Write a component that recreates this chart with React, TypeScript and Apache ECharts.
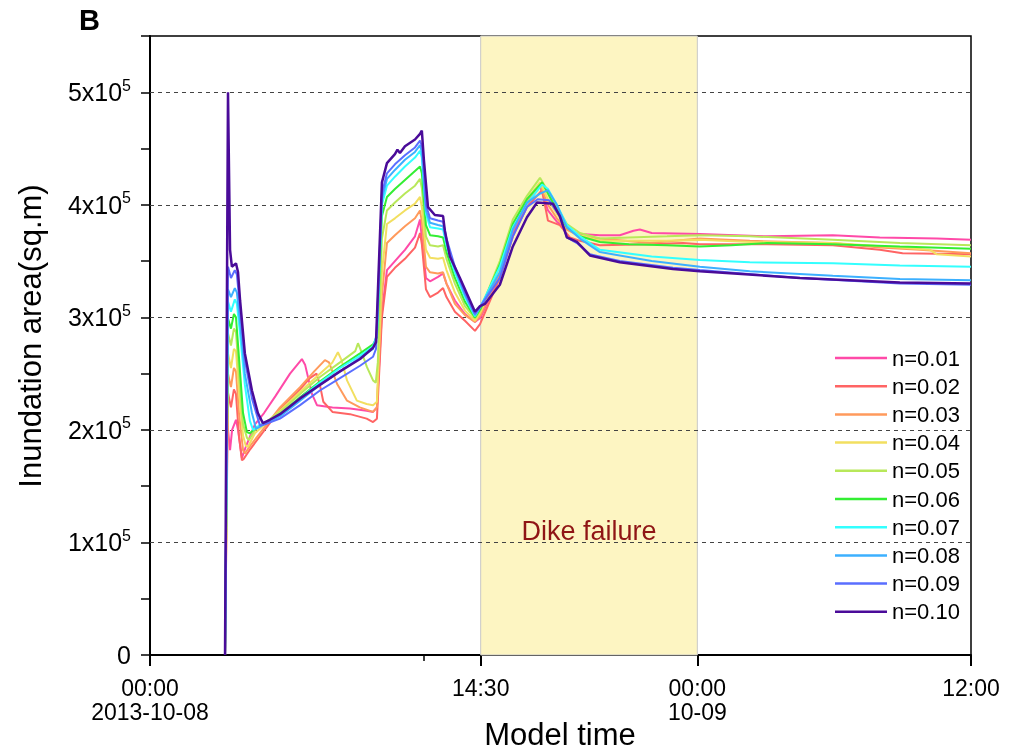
import React, { useEffect, useRef } from "react";
import * as echarts from "echarts";

// time in hours since 2013-10-08 00:00, area in thousand sq.m
const seriesNames = ["n=0.01", "n=0.02", "n=0.03", "n=0.04", "n=0.05", "n=0.06", "n=0.07", "n=0.08", "n=0.09", "n=0.10"];
const seriesColors = ["#ff4aa8", "#ff6464", "#ff9a5c", "#f2df60", "#b8e85a", "#33ee33", "#33ffff", "#3cb0ff", "#5a6eff", "#4a0b99"];

const n01 = [[3.29,0],[3.38,209],[3.51,182],[3.6,200],[3.77,209],[3.86,200],[4.03,175],[4.2,185],[4.6,205],[5.0,215],[5.5,230],[6.14,250],[6.66,263],[6.8,258],[7.1,232],[7.32,222],[8.0,220],[8.77,219],[9.5,217],[9.78,216],[9.95,220],[10.17,305],[10.39,342],[10.74,350],[11.18,360],[11.62,372],[11.84,387],[11.92,370],[12.1,335],[12.28,332],[12.63,336],[12.85,339],[13.0,330],[13.37,315],[13.81,303],[14.25,296],[14.5,300],[15.34,338],[15.91,375],[16.53,400],[17.1,417],[17.45,395],[17.84,385],[18.28,378],[18.85,374],[19.73,373],[20.6,373],[21.2,377],[21.48,378],[22.0,375],[24.11,374],[27.05,372],[29.94,373],[32.0,371],[34.5,370],[36,369]];
const n02 = [[3.29,0],[3.42,233],[3.55,220],[3.68,236],[3.77,232],[3.9,195],[4.03,173],[4.1,174],[4.4,183],[5.7,218],[6.58,236],[7.01,246],[7.3,250],[7.45,240],[7.6,225],[8.0,216],[8.77,214],[9.5,210],[9.78,207],[9.95,210],[10.17,300],[10.39,336],[10.74,344],[11.18,352],[11.62,362],[11.84,375],[11.92,365],[12.1,325],[12.28,318],[12.63,322],[12.85,326],[13.0,318],[13.37,305],[13.81,297],[14.25,288],[14.47,294],[15.34,335],[15.91,372],[16.53,398],[17.19,413],[17.45,386],[17.97,382],[18.41,371],[18.85,368],[19.73,364],[21.92,365],[23.37,366],[24.11,365],[27.05,365],[29.94,364],[32.0,360],[33.0,357],[36,356]];
const n03 = [[3.29,0],[3.42,250],[3.55,238],[3.68,255],[3.77,252],[3.9,215],[4.08,182],[4.16,179],[4.4,186],[5.7,220],[6.58,238],[7.2,252],[7.67,262],[7.85,260],[8.2,241],[8.64,226],[9.2,220],[9.78,216],[9.95,220],[10.17,320],[10.39,366],[10.74,373],[11.18,381],[11.62,388],[11.84,395],[11.92,385],[12.1,345],[12.28,340],[12.63,339],[12.85,340],[13.0,330],[13.37,312],[13.81,302],[14.25,296],[14.5,302],[15.34,340],[15.91,378],[16.53,402],[17.1,418],[17.45,400],[17.84,388],[18.28,378],[18.85,372],[19.73,370],[21.92,366],[24.11,370],[26.3,368],[29.94,366],[32.0,362],[33.76,360],[36,357]];
const n04 = [[3.29,0],[3.42,268],[3.55,255],[3.68,272],[3.77,270],[3.9,235],[4.08,195],[4.2,186],[4.3,185],[4.6,197],[5.7,217],[6.58,234],[7.45,250],[8.0,260],[8.24,269],[8.4,262],[8.64,244],[9.07,226],[9.5,223],[9.78,222],[9.95,225],[10.17,340],[10.39,383],[10.74,388],[11.18,395],[11.62,401],[11.84,407],[11.92,398],[12.1,360],[12.28,353],[12.63,352],[12.85,353],[13.0,342],[13.37,322],[13.81,306],[14.25,297],[14.5,305],[15.34,345],[15.91,383],[16.53,405],[17.1,420],[17.45,405],[17.84,392],[18.28,380],[18.85,373],[19.73,368],[21.0,368],[22.67,368],[24.11,369],[26.3,367],[29.94,366],[32.88,362],[34.2,360],[34.5,356],[36,354]];
const n05 = [[3.29,0],[3.42,286],[3.55,275],[3.68,290],[3.77,287],[3.9,250],[4.08,205],[4.25,193],[4.34,191],[4.6,200],[5.7,216],[6.58,232],[7.45,247],[8.33,260],[9.0,270],[9.12,277],[9.3,268],[9.51,256],[9.78,244],[9.9,242],[9.99,260],[10.17,370],[10.39,395],[10.74,402],[11.18,410],[11.62,417],[11.84,423],[11.92,415],[12.1,372],[12.28,364],[12.63,363],[12.85,364],[13.0,352],[13.37,330],[13.81,310],[14.25,299],[14.5,307],[15.34,350],[15.91,387],[16.53,408],[17.1,424],[17.45,412],[17.84,398],[18.28,383],[18.85,375],[19.73,370],[21.0,371],[22.67,372],[24.11,373],[26.3,372],[29.94,369],[32.88,366],[36,364]];
const n06 = [[3.29,0],[3.42,299],[3.55,290],[3.68,303],[3.77,300],[3.9,265],[4.08,215],[4.25,198],[4.38,197],[4.6,201],[5.7,214],[6.58,229],[7.45,243],[8.33,256],[9.21,268],[9.78,276],[9.95,282],[10.17,390],[10.39,407],[10.74,414],[11.18,422],[11.62,430],[11.84,434],[11.92,428],[12.1,382],[12.28,373],[12.63,372],[12.85,371],[13.0,358],[13.37,335],[13.81,314],[14.25,300],[14.5,308],[15.34,347],[15.91,383],[16.53,405],[17.19,420],[17.45,410],[17.84,395],[18.28,380],[18.85,372],[19.73,367],[21.0,365],[22.67,364],[24.11,363],[25.5,364],[27.05,366],[29.94,365],[32.88,363],[36,361]];
const n07 = [[3.29,0],[3.42,314],[3.55,305],[3.72,316],[3.81,312],[3.95,285],[4.16,240],[4.38,208],[4.52,200],[4.8,204],[5.7,213],[6.58,228],[7.45,242],[8.33,255],[9.21,266],[9.78,274],[9.95,285],[10.17,400],[10.39,417],[10.74,425],[11.18,434],[11.62,442],[11.84,448],[11.92,442],[12.1,392],[12.28,380],[12.63,379],[12.85,378],[13.0,364],[13.37,340],[13.81,318],[14.25,301],[14.5,310],[15.34,345],[15.91,380],[16.53,401],[17.19,418],[17.45,414],[17.84,400],[18.28,382],[18.85,372],[19.73,360],[22.0,354],[24.11,351],[26.3,349],[29.94,348],[32.88,346],[36,345]];
const n08 = [[3.29,0],[3.42,325],[3.55,318],[3.72,326],[3.81,322],[3.95,295],[4.16,250],[4.47,215],[4.65,201],[5.0,205],[5.7,212],[6.58,226],[7.45,240],[8.33,252],[9.21,264],[9.78,272],[9.95,285],[10.17,405],[10.39,423],[10.74,431],[11.18,440],[11.62,447],[11.84,453],[11.92,447],[12.1,395],[12.28,384],[12.63,382],[12.85,381],[13.0,367],[13.37,343],[13.81,320],[14.25,302],[14.5,310],[15.34,340],[15.91,378],[16.53,402],[17.1,410],[17.45,413],[17.84,400],[18.28,380],[18.85,370],[19.73,358],[22.0,350],[24.11,345],[26.3,341],[29.94,337],[32.88,334],[36,333]];
const n09 = [[3.29,0],[3.42,345],[3.55,335],[3.72,342],[3.81,338],[3.95,308],[4.16,262],[4.47,228],[4.82,204],[5.04,205],[5.7,210],[6.58,222],[7.45,235],[8.33,246],[9.21,257],[9.78,265],[9.91,272],[10.17,410],[10.39,428],[10.74,436],[11.18,444],[11.62,451],[11.84,457],[11.95,450],[12.1,400],[12.28,388],[12.63,386],[12.85,385],[13.0,370],[13.37,345],[13.81,322],[14.25,303],[14.5,310],[15.34,335],[15.91,372],[16.53,398],[17.0,405],[17.5,404],[17.97,390],[18.28,371],[18.72,366],[19.29,356],[20.6,350],[22.93,344],[24.11,342],[28.5,335],[32.88,330],[36,329]];
const n10 = [[3.29,0],[3.42,500],[3.51,360],[3.59,345],[3.77,348],[3.86,340],[3.95,315],[4.16,268],[4.47,235],[4.73,215],[4.95,206],[5.26,209],[5.7,214],[6.58,228],[7.45,240],[8.33,252],[9.21,263],[9.78,273],[9.91,278],[10.17,420],[10.39,437],[10.74,445],[10.85,449],[10.96,446],[11.18,452],[11.62,458],[11.84,463],[11.92,466],[12.01,440],[12.19,398],[12.49,391],[12.85,390],[12.93,377],[13.15,354],[13.59,335],[13.81,325],[14.25,305],[14.47,310],[14.69,312],[15.34,329],[15.91,363],[16.53,389],[16.97,402],[17.67,401],[17.97,390],[18.28,371],[18.72,367],[19.29,355],[20.6,349],[22.93,343],[24.11,341],[28.5,335],[32.88,331],[36,330]];
const seriesData = [n01, n02, n03, n04, n05, n06, n07, n08, n09, n10];

const xTickValues = [0, 14.5, 24, 36];
const xTickLabels = ["00:00\n2013-10-08", "14:30", "00:00\n10-09", "12:00"];
const xMinorTickValues = [12];
const failureWindow = [14.5, 24];
const failureLabel = "Dike failure";

const FONT = "'Liberation Sans', Arial, sans-serif";

export default function App() {
  const ref = useRef<HTMLDivElement>(null);
  useEffect(() => {
    if (!ref.current) return;
    const chart = echarts.init(ref.current, undefined, { renderer: "svg" });
    const series: any[] = seriesNames.map((name, i) => ({
      name,
      type: "line",
      data: seriesData[i],
      symbol: "none",
      z: 3,
      lineStyle: { width: i === 9 ? 2.5 : 2, color: seriesColors[i] },
      itemStyle: { color: seriesColors[i] },
      emphasis: { disabled: true },
    }));
    series[0].markArea = {
      silent: true,
      z: 1,
      itemStyle: { color: "#fdf5c2", borderColor: "#c8c8c8", borderWidth: 1 },
      label: { show: true, position: "insideBottom", distance: 111, color: "#8f1515", fontSize: 27, fontFamily: FONT },
      data: [[{ xAxis: failureWindow[0], name: failureLabel }, { xAxis: failureWindow[1] }]],
    };
    chart.setOption({
      animation: false,
      textStyle: { fontFamily: FONT },
      title: { text: "B", left: 79, top: 5, padding: 0, textStyle: { fontSize: 29, fontWeight: "bold", color: "#000", fontFamily: FONT } },
      grid: { left: 150, right: 38, top: 36, bottom: 96, show: true, borderColor: "#000", borderWidth: 1.5, backgroundColor: "transparent" },
      legend: {
        orient: "vertical", left: 835, top: 347, padding: 0,
        icon: "rect", itemWidth: 52, itemHeight: 2.5, itemGap: 6.2,
        textStyle: { fontSize: 22, lineHeight: 22, color: "#000", fontFamily: FONT },
        data: seriesNames,
      },
      xAxis: [
        {
          type: "value", min: 0, max: 36,
          axisLine: { show: true, lineStyle: { color: "#000", width: 2 } },
          axisTick: { show: true, customValues: xTickValues, length: 11, lineStyle: { color: "#000", width: 2 } },
          axisLabel: {
            show: true, customValues: xTickValues, margin: 21, color: "#000", fontSize: 23, lineHeight: 24, fontFamily: FONT,
            formatter: (v: number) => { const k = xTickValues.indexOf(v); return k >= 0 ? xTickLabels[k] : ""; },
          },
          splitLine: { show: false },
        },
        {
          type: "value", min: 0, max: 36, position: "bottom",
          axisLine: { show: false },
          axisTick: { show: true, customValues: xMinorTickValues, length: 6, lineStyle: { color: "#000", width: 1.5 } },
          axisLabel: { show: false },
          splitLine: { show: false },
        },
      ],
      yAxis: [
        {
          type: "value", min: 0, max: 550, interval: 50,
          axisLine: { show: true, lineStyle: { color: "#000", width: 2 } },
          axisTick: { show: true, length: 9, lineStyle: { color: "#000", width: 1.5 } },
          axisLabel: {
            margin: 19, color: "#000", fontFamily: FONT,
            formatter: (v: number) => (v % 100 !== 0 ? "" : v === 0 ? "{b|0}" : `{b|${v / 100}x10}{s|5}`),
            rich: {
              b: { fontSize: 25, lineHeight: 30, color: "#000", fontFamily: FONT },
              s: { fontSize: 16, lineHeight: 16, verticalAlign: "top", color: "#000", fontFamily: FONT },
            },
          },
          splitLine: { show: false },
        },
        {
          type: "value", min: 0, max: 550, interval: 100, z: 1.5,
          axisLine: { show: false }, axisTick: { show: false }, axisLabel: { show: false },
          splitLine: { show: true, showMinLine: false, showMaxLine: false, lineStyle: { color: "#444", width: 1.2, type: [4, 4] } },
        },
      ],
      graphic: [
        { type: "text", x: 30, y: 336, rotation: Math.PI / 2, style: { text: "Inundation area(sq.m)", fontSize: 31, fontFamily: FONT, fill: "#000", textAlign: "center", textVerticalAlign: "middle" } },
        { type: "text", x: 560, y: 734, style: { text: "Model time", fontSize: 31, fontFamily: FONT, fill: "#000", textAlign: "center", textVerticalAlign: "middle" } },
      ],
      series,
    });
    return () => chart.dispose();
  }, []);
  return <div ref={ref} style={{ position: "fixed", left: 0, top: 0, width: 1009, height: 751 }} />;
}
